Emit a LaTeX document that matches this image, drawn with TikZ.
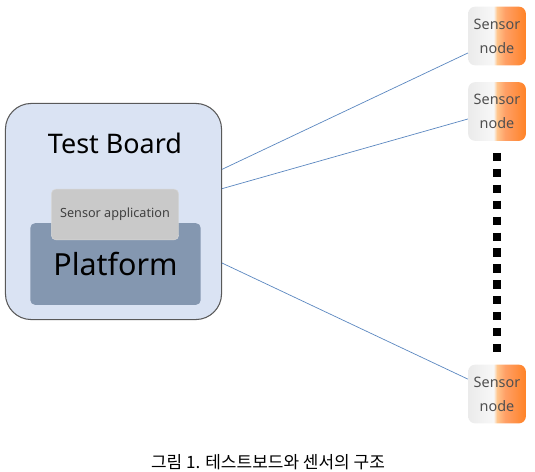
\documentclass[tikz,border=0pt]{standalone}
\usepackage{fontspec}
\setmainfont{Noto Sans}
\newfontfamily\korfont{Noto Sans CJK KR}
\usepackage{xcolor}
\definecolor{boardfill}{HTML}{DAE3F3}
\definecolor{boardline}{HTML}{595959}
\definecolor{platfill}{HTML}{8497B0}
\definecolor{appfill}{HTML}{C9C9C9}
\definecolor{linkblue}{HTML}{5B87C0}
\definecolor{sensortext}{HTML}{505050}
\pgfdeclarehorizontalshading{sensorshade}{100bp}{color(0bp)=(black!8); color(25bp)=(black!8); color(47bp)=(black!3); color(50bp)=(orange!45!white); color(57bp)=(orange!75!red!60!white); color(75bp)=(orange!85!red!85!white); color(100bp)=(orange!85!red!85!white)}

\begin{document}
\begin{tikzpicture}[x=0.03cm,y=-0.03cm]
		\useasboundingbox (0,0) rectangle (535,471);
		\tikzset{
			board/.style={draw=boardline, line width=0.9pt, fill=boardfill, rounded corners=22pt, minimum width=217*0.85pt, minimum height=217*0.85pt, inner sep=0pt},
			platbox/.style={fill=platfill, rounded corners=4pt, minimum width=171*0.85pt, minimum height=82*0.85pt, inner sep=0pt, font=\fontsize{26}{29}\selectfont},
			appbox/.style={fill=appfill, draw=white!85!black, rounded corners=4pt, minimum width=128*0.85pt, minimum height=51*0.85pt, inner sep=0pt, font=\fontsize{10.8}{12}\selectfont, text=black!75},
			sensor/.style={shading=sensorshade, rounded corners=6pt, minimum width=58*0.85pt, minimum height=59*0.85pt, inner sep=0pt, align=center, text=sensortext, font=\fontsize{12.3}{20.5}\selectfont},
			link/.style={draw=linkblue, line width=0.6pt},
			dots/.style={line width=7pt, dash pattern=on 7pt off 6.6pt}
		}
		\node[board] at (113.5,211.5) (board) {};
		\node at (115,143) (title) {\fontsize{23}{26}\selectfont Test Board};
		\node[platbox] at (115.5,264) (platform) {Platform};
		\node[appbox] at (115,214.5) (app) {Sensor application};

		\node[sensor] at (497,36) (s1) {Sensor\\node};
		\node[sensor] at (497,111.5) (s2) {Sensor\\node};
		\node[sensor] at (497,394) (s3) {Sensor\\node};

		\draw[link] ([yshift=36pt]board.east) -- ([yshift=-14.5pt]s1.west);
		\draw[link] ([yshift=19.5pt]board.east) -- ([yshift=-6.4pt]s2.west);
		\draw[link] ([yshift=-44pt]board.east) -- ([yshift=12.7pt]s3.west);
		\draw[dots, shorten <=10pt, shorten >=8pt] (s2.south) -- (s3.north);

		\node[anchor=base] at (268,468) (caption) {\korfont\fontsize{14.5}{16}\selectfont 그림 1. 테스트보드와 센서의 구조};
	\end{tikzpicture}
\end{document}
